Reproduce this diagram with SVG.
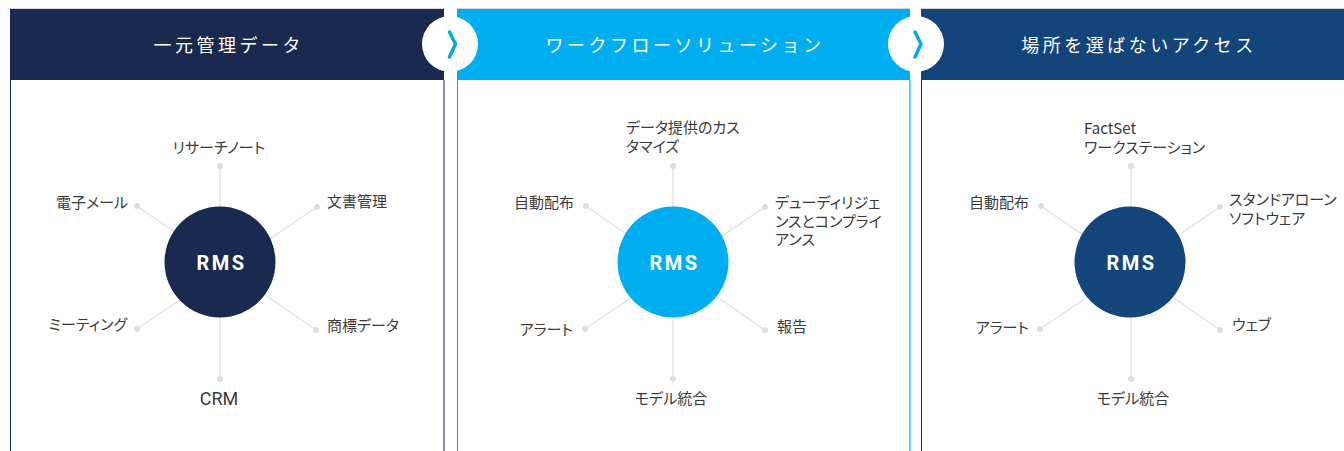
<svg xmlns="http://www.w3.org/2000/svg" width="1344" height="451" viewBox="0 0 1344 451">
<style>
.hdr{font-family:"Noto Sans CJK JP","Noto Sans",sans-serif;font-size:18px;fill:#fff;letter-spacing:3.5px;text-anchor:middle}
.lbl{font-family:"Noto Sans CJK JP","Noto Sans",sans-serif;font-size:15px;fill:#3a3a3a;font-feature-settings:"palt"}
.lat{font-family:Roboto,"Noto Sans",sans-serif;fill:#3a3a3a}
.rms{font-family:Roboto,"Liberation Sans",sans-serif;font-size:20px;font-weight:bold;fill:#fff;letter-spacing:2.5px;text-anchor:middle}
.spoke{stroke:#e3e3e3;stroke-width:1.5;fill:none}
.dot{fill:#dedede}
.chev{fill:none;stroke:#0aa8e6;stroke-width:3.5;stroke-linecap:round;stroke-linejoin:round}
.r{text-anchor:end}
.m{text-anchor:middle}
</style>

<rect width="1344" height="451" fill="#fff"/>

<!-- Panel 1 -->
<g id="panel1">
  <rect x="10" y="8" width="434" height="1" fill="#d3d7dd"/>
  <rect x="10" y="9" width="434" height="71" fill="#1a2950"/>
  <rect x="10" y="80" width="1" height="371" fill="#1a2950"/>
  <rect x="443" y="80" width="2" height="371" fill="#8b95a7"/>
  <text class="hdr" x="228.7" y="52">一元管理データ</text>
</g>

<!-- Panel 2 -->
<g id="panel2">
  <rect x="457" y="8" width="453" height="1" fill="#d3d7dd"/>
  <rect x="457" y="9" width="453" height="71" fill="#00aeef"/>
  <rect x="457" y="80" width="1" height="371" fill="#1aa3e0"/>
  <rect x="909" y="80" width="2" height="371" fill="#66c9f1"/>
  <text class="hdr" x="685" y="52">ワークフローソリューション</text>
</g>

<!-- Panel 3 -->
<g id="panel3">
  <rect x="921" y="8" width="423" height="1" fill="#d3d7dd"/>
  <rect x="921" y="9" width="423" height="71" fill="#13447a"/>
  <rect x="921" y="80" width="1" height="371" fill="#13447a"/>
  <text class="hdr" x="1139" y="52">場所を選ばないアクセス</text>
</g>

<!-- Arrows between panels -->
<g id="arrow1">
  <circle cx="450" cy="44" r="28" fill="#fff"/>
  <polyline class="chev" points="449.5,32 455.5,44 449.5,57"/>
</g>
<g id="arrow2">
  <circle cx="916" cy="44" r="28" fill="#fff"/>
  <polyline class="chev" points="915,32 921,44 915,57"/>
</g>

<!-- Connectors -->
<g id="connectors">
  <line class="spoke" x1="220" y1="166" x2="220" y2="379"/>
  <line class="spoke" x1="137" y1="206" x2="316" y2="330"/>
  <line class="spoke" x1="317" y1="207" x2="137" y2="329"/>
  <line class="spoke" x1="673" y1="166" x2="673" y2="379"/>
  <line class="spoke" x1="586" y1="206" x2="765" y2="330"/>
  <line class="spoke" x1="765" y1="207" x2="585" y2="329"/>
  <line class="spoke" x1="1131" y1="166" x2="1131" y2="379"/>
  <line class="spoke" x1="1041" y1="206" x2="1220" y2="330"/>
  <line class="spoke" x1="1220" y1="207" x2="1040" y2="329"/>
  <circle class="dot" cx="220" cy="166" r="3"/>
  <circle class="dot" cx="137" cy="206" r="3"/>
  <circle class="dot" cx="317" cy="207" r="3"/>
  <circle class="dot" cx="137" cy="329" r="3"/>
  <circle class="dot" cx="316" cy="330" r="3"/>
  <circle class="dot" cx="220" cy="379" r="3"/>
  <circle class="dot" cx="673" cy="166" r="3"/>
  <circle class="dot" cx="586" cy="206" r="3"/>
  <circle class="dot" cx="765" cy="207" r="3"/>
  <circle class="dot" cx="585" cy="329" r="3"/>
  <circle class="dot" cx="765" cy="330" r="3"/>
  <circle class="dot" cx="673" cy="379" r="3"/>
  <circle class="dot" cx="1131" cy="166" r="3"/>
  <circle class="dot" cx="1041" cy="206" r="3"/>
  <circle class="dot" cx="1220" cy="207" r="3"/>
  <circle class="dot" cx="1040" cy="329" r="3"/>
  <circle class="dot" cx="1220" cy="330" r="3"/>
  <circle class="dot" cx="1131" cy="379" r="3"/>
</g>

<!-- Hubs -->
<g id="hub1">
  <circle cx="220" cy="262" r="55.5" fill="#1a2950"/>
  <text class="rms" x="221.5" y="270">RMS</text>
</g>
<g id="hub2">
  <circle cx="673" cy="262" r="55.5" fill="#00aeef"/>
  <text class="rms" x="674.5" y="270">RMS</text>
</g>
<g id="hub3">
  <circle cx="1130" cy="262" r="55.5" fill="#13447a"/>
  <text class="rms" x="1131.5" y="270">RMS</text>
</g>

<!-- Panel 1 labels -->
<g id="p1-research"><text class="lbl m" x="219" y="153">リサーチノート</text></g>
<g id="p1-email"><text class="lbl r" x="128" y="208">電子メール</text></g>
<g id="p1-docs"><text class="lbl" x="327" y="207">文書管理</text></g>
<g id="p1-meeting"><text class="lbl r" x="127" y="330">ミーティング</text></g>
<g id="p1-trademark"><text class="lbl" x="327" y="331">商標データ</text></g>
<g id="p1-crm"><text class="lat m" x="219" y="405" font-size="18">CRM</text></g>

<!-- Panel 2 labels -->
<g id="p2-custom"><text class="lbl" x="626" y="133"><tspan x="626">データ提供のカス</tspan><tspan x="626" dy="18.5">タマイズ</tspan></text></g>
<g id="p2-dist"><text class="lbl r" x="574" y="208">自動配布</text></g>
<g id="p2-dd"><text class="lbl" x="775" y="208"><tspan x="775">デューディリジェ</tspan><tspan x="775" dy="18.5">ンスとコンプライ</tspan><tspan x="775" dy="18.5">アンス</tspan></text></g>
<g id="p2-alert"><text class="lbl r" x="573" y="335">アラート</text></g>
<g id="p2-report"><text class="lbl" x="777" y="332">報告</text></g>
<g id="p2-model"><text class="lbl m" x="671" y="404">モデル統合</text></g>

<!-- Panel 3 labels -->
<g id="p3-ws"><text class="lbl" x="1084" y="134"><tspan x="1084">FactSet</tspan><tspan x="1084" dy="18.5">ワークステーション</tspan></text></g>
<g id="p3-dist"><text class="lbl r" x="1029" y="208">自動配布</text></g>
<g id="p3-sa"><text class="lbl" x="1229" y="205"><tspan x="1229">スタンドアローン</tspan><tspan x="1229" dy="18.5">ソフトウェア</tspan></text></g>
<g id="p3-alert"><text class="lbl r" x="1029" y="333">アラート</text></g>
<g id="p3-web"><text class="lbl" x="1232" y="330">ウェブ</text></g>
<g id="p3-model"><text class="lbl m" x="1133" y="404">モデル統合</text></g>
</svg>
